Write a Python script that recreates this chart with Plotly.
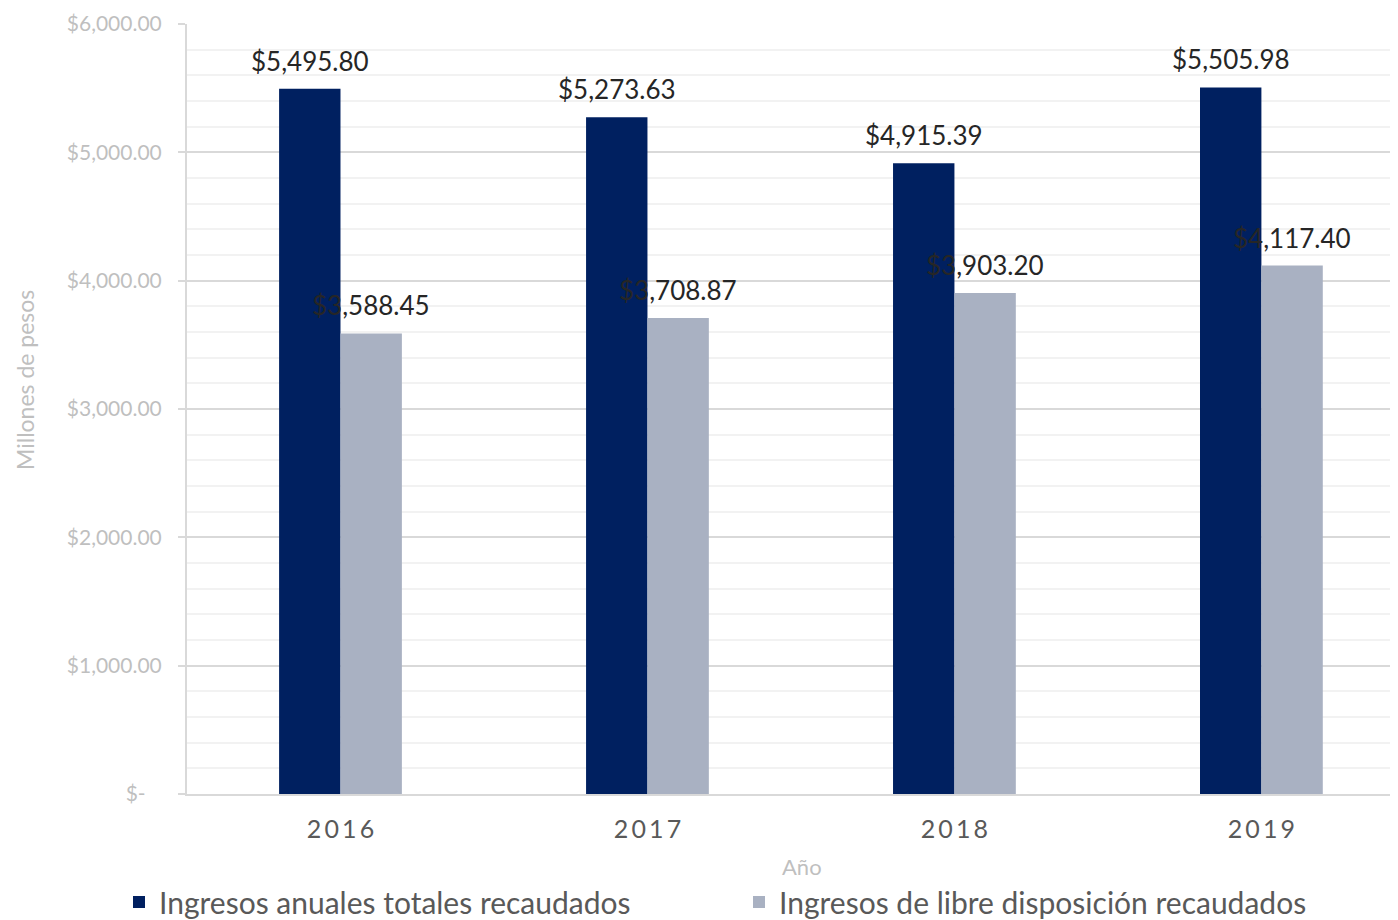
import plotly.graph_objects as go

years = ["2016", "2017", "2018", "2019"]
totales = [5495.80, 5273.63, 4915.39, 5505.98]
libre = [3588.45, 3708.87, 3903.20, 4117.40]
series_names = ["Ingresos anuales totales recaudados", "Ingresos de libre disposición recaudados"]
y_ticks = [0, 1000, 2000, 3000, 4000, 5000, 6000]
y_ticktext = ["$-\u00a0\u00a0\u00a0", "$1,000.00", "$2,000.00", "$3,000.00", "$4,000.00", "$5,000.00", "$6,000.00"]

FONT = "Lato"
W, H = 1390, 912  # page body has an 8px margin
OFF = 8

def money(v):
    return "${:,.2f}".format(v)

fig = go.Figure()
fig.add_trace(go.Bar(
    x=years, y=totales, name=series_names[0], legend="legend",
    marker=dict(color="#002060", line=dict(width=0)),
))
fig.add_trace(go.Bar(
    x=years, y=libre, name=series_names[1], legend="legend2",
    marker=dict(color="#A9B1C2", line=dict(width=0)),
))

# data labels centred over each bar of the group (x = category index)
half_bar_px = 30.6
for series, shift in ((totales, -half_bar_px), (libre, half_bar_px)):
    for i, v in enumerate(series):
        fig.add_annotation(
            x=i, y=v, xref="x", yref="y", text=money(v),
            showarrow=False, xanchor="center", yanchor="bottom",
            xshift=shift, yshift=10,
            font=dict(family=FONT, size=26, color="#262626"),
        )

legend_common = dict(
    orientation="h", xref="container", yref="container",
    xanchor="left", y=1 - (902 - OFF) / H, yanchor="middle",
    font=dict(family=FONT, size=30, color="#595959"),
    bgcolor="rgba(0,0,0,0)",
)

fig.update_layout(
    width=W, height=H,
    margin=dict(l=187 - OFF, r=0, t=24 - OFF, b=H + OFF - 794, autoexpand=False),
    paper_bgcolor="white", plot_bgcolor="white",
    barmode="group", bargap=0.6, bargroupgap=0,
    font=dict(family=FONT),
    showlegend=True,
    legend=dict(x=111 / W, **legend_common),
    legend2=dict(x=731 / W, **legend_common),
)
fig.update_xaxes(
    type="category", range=[-0.5, 3.445],
    tickvals=years, ticktext=["\u2009".join(list(y)) for y in years],
    tickfont=dict(family=FONT, size=25, color="#595959"),
    showline=True, linecolor="#D9D9D9", linewidth=2,
    ticks="", ticklabelstandoff=12,
    showgrid=False, automargin=False,
)
fig.update_yaxes(
    range=[0, 6000],
    tickvals=y_ticks, ticktext=y_ticktext,
    tickfont=dict(family=FONT, size=21, color="#BFBFBF"),
    showline=True, linecolor="#D9D9D9", linewidth=2,
    ticks="outside", ticklen=7, tickcolor="#D9D9D9", tickwidth=2,
    ticklabelstandoff=12,
    showgrid=True, gridcolor="#D9D9D9", gridwidth=2,
    minor=dict(dtick=200, showgrid=True, gridcolor="#F2F2F2", gridwidth=2, ticks=""),
    zeroline=False, automargin=False,
)
fig.add_annotation(
    text="Millones de pesos", xref="paper", yref="paper",
    x=-(187 - 25) / 1211, y=(794 - 380) / 770, textangle=-90,
    showarrow=False, xanchor="center", yanchor="middle",
    font=dict(family=FONT, size=23, color="#BFBFBF"),
)
fig.add_annotation(
    text="Año", xref="paper", yref="paper",
    x=(802 - 187) / 1211, y=-(866 - 794) / 770,
    showarrow=False, xanchor="center", yanchor="middle",
    font=dict(family=FONT, size=22, color="#BFBFBF"),
)

fig.write_html("out.html")
